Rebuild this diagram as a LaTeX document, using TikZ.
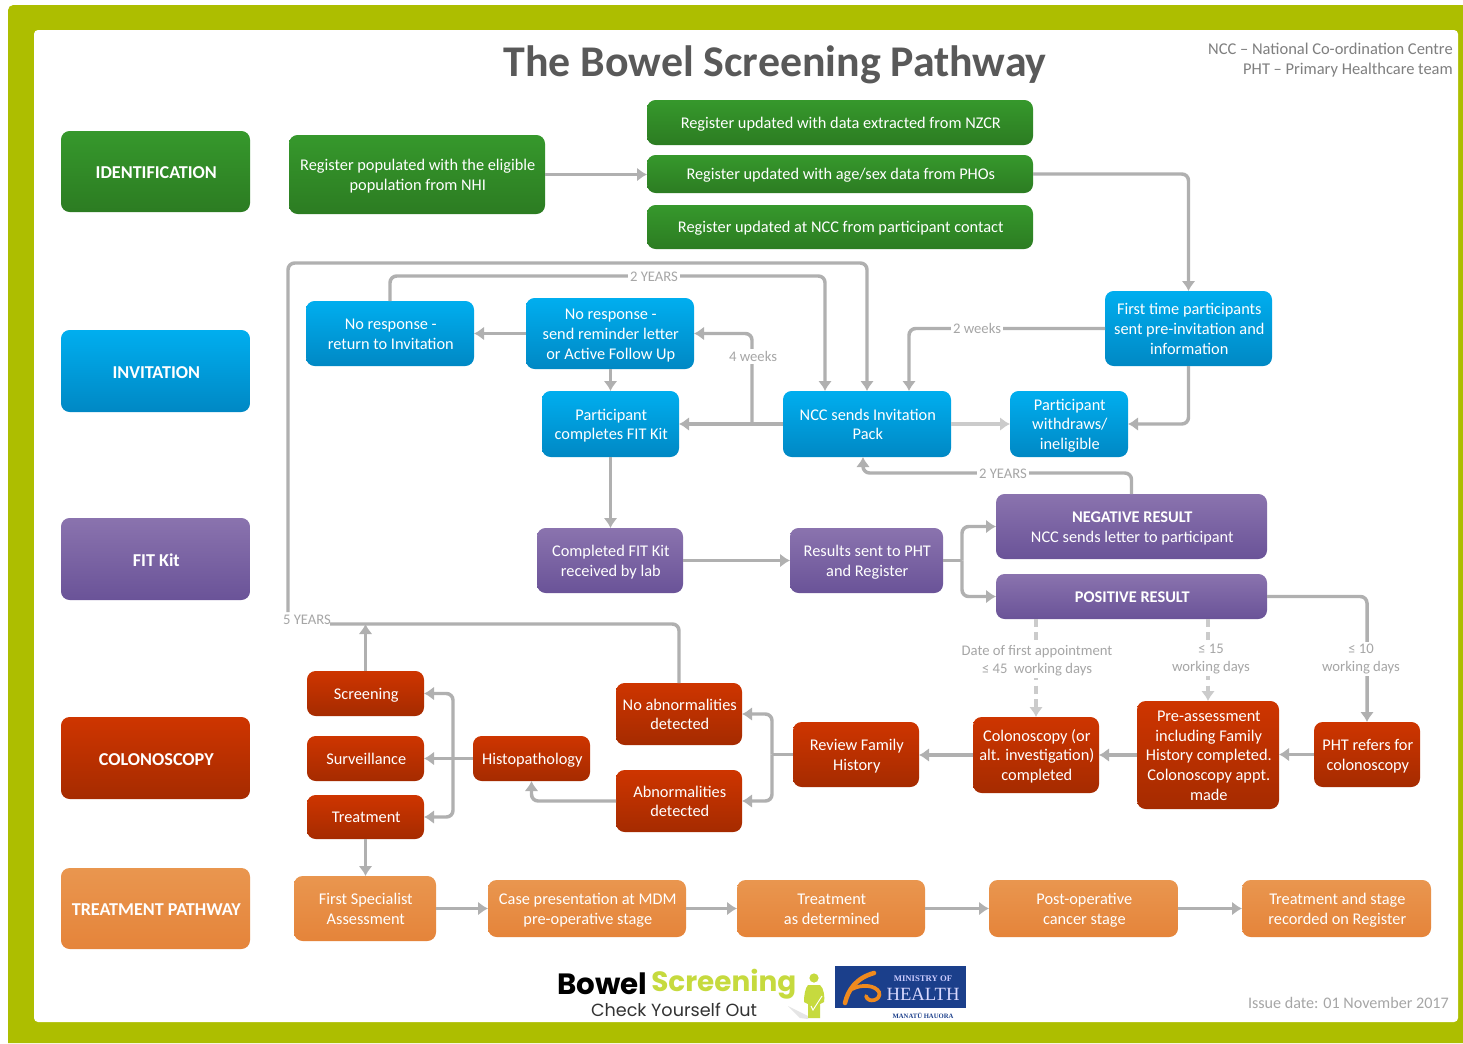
\documentclass[tikz,border=0pt]{standalone}
\usepackage{fontspec}
\setmainfont{Carlito}
\newfontfamily\logofont{Poppins}
\newfontfamily\healthfont{Liberation Serif}
\usetikzlibrary{arrows.meta,calc}
\definecolor{pagegreen}{HTML}{ADBE00}
\definecolor{conn}{HTML}{B0B0B0}
\definecolor{connlight}{HTML}{CBCBCB}
\definecolor{lbl}{HTML}{A6A6A6}
\definecolor{heading}{HTML}{595959}
\definecolor{abbrgray}{HTML}{7F7F7F}
\definecolor{greenT}{HTML}{36982C}\definecolor{greenB}{HTML}{2C7C22}
\definecolor{blueT}{HTML}{00AEEF}\definecolor{blueB}{HTML}{0088C4}
\definecolor{purpleT}{HTML}{8A73AE}\definecolor{purpleB}{HTML}{6A5398}
\definecolor{redT}{HTML}{CE3500}\definecolor{redB}{HTML}{A52B00}
\definecolor{orangeT}{HTML}{E9964F}\definecolor{orangeB}{HTML}{E5843A}
\definecolor{logolime}{HTML}{C6DA3E}
\definecolor{logoblue}{HTML}{1B3F8B}
\definecolor{logoorange}{HTML}{EF8A1E}
\def\pdrop{-1.5pt}
\tikzset{
  base/.style={rounded corners=6.5pt,inner sep=0pt,outer sep=0pt,text=white,font=\fontsize{12.25}{14.8}\selectfont},
  greenbox/.style={base,top color=greenT,bottom color=greenB},
  bluebox/.style={base,top color=blueT,bottom color=blueB},
  purplebox/.style={base,top color=purpleT,bottom color=purpleB},
  redbox/.style={base,top color=redT,bottom color=redB},
  orangebox/.style={base,top color=orangeT,bottom color=orangeB},
  side/.style={font=\fontsize{13.6}{15}\selectfont\bfseries\def\pdrop{-2.4pt}},
  tip/.style={-{Latex[length=7.5pt,width=10.5pt]}},
  plain/.style={draw=conn,line width=2.6pt,rounded corners=5pt},
  link/.style={plain,tip},
  dashlink/.style={draw=connlight,line width=2.6pt,dash pattern=on 6pt off 4pt,tip},
  gap/.style={fill=white,inner sep=1.5pt,text=lbl,align=center,font=\fontsize{11}{13.6}\selectfont},
}
\newcommand\pbox[7]{\node[#1,minimum width={(#5-#3)*0.75pt},minimum height={(#6-#4)*0.75pt}] (#2) at ({(#3+#5)/2},{(#4+#6)/2}) {\hspace*{1.2pt}\raisebox{\pdrop}[\height][\depth]{\begin{tabular}{@{}c@{}}#7\end{tabular}}};}
\begin{document}
\begin{tikzpicture}[x=0.75pt,y=-0.75pt]
\useasboundingbox (0,0) rectangle (1463,1043);
\fill[white] (0,0) rectangle (1463,1043);
\fill[pagegreen] (8,1043) [rounded corners=4pt] -- (8,5) [sharp corners] -- (1463,5) -- (1463,1043) -- cycle;
\fill[white,rounded corners=3pt] (34,30) rectangle (1458,1022);
% title
\node[text=heading,inner sep=0pt,font=\fontsize{32.9}{36}\selectfont\bfseries] (title) at (775,64.5) {The Bowel Screening Pathway};
\node[anchor=east,inner sep=0pt,text=abbrgray,align=right,font=\fontsize{12.35}{15}\selectfont] (abbr) at (1453,60) {NCC -- National Co-ordination Centre\\PHT -- Primary Healthcare team};
% side
\pbox{greenbox,side}{sa}{61}{131}{250}{212}{IDENTIFICATION}
\pbox{bluebox,side}{sb}{61}{330}{250}{412}{INVITATION}
\pbox{purplebox,side}{sc}{61}{518}{250}{600}{FIT Kit}
\pbox{redbox,side}{sd}{61}{717}{250}{799}{COLONOSCOPY}
\pbox{orangebox,side}{se}{61}{868}{250}{949}{TREATMENT PATHWAY}
% green
\pbox{greenbox}{reg}{289}{135}{545}{214}{Register populated with the eligible\\population from NHI}
\pbox{greenbox}{ra}{647}{100}{1033}{145}{Register updated with data extracted from NZCR}
\pbox{greenbox}{rb}{647}{155}{1033}{193}{Register updated with age/sex data from PHOs}
\pbox{greenbox}{rc}{647}{205}{1033}{249}{Register updated at NCC from participant contact}
% blue
\pbox{bluebox}{first}{1105}{291}{1272}{366}{First time participants\\sent pre-invitation and\\information}
\pbox{bluebox}{nores}{306}{301}{474}{366}{No response -\\return to Invitation}
\pbox{bluebox}{rem}{526}{298}{694}{369}{No response -\\send reminder letter\\or Active Follow Up}
\pbox{bluebox}{part}{542}{391}{679}{457}{Participant\\completes FIT Kit}
\pbox{bluebox}{ncc}{783}{391}{951}{457}{NCC sends Invitation\\Pack}
\pbox{bluebox}{with}{1010}{391}{1128}{457}{Participant\\withdraws/\\ineligible}
% purple
\pbox{purplebox}{lab}{537}{528}{683}{593}{Completed FIT Kit\\received by lab}
\pbox{purplebox}{res}{790}{528}{943}{593}{Results sent to PHT\\and Register}
\pbox{purplebox}{neg}{996}{494}{1267}{559}{\textbf{NEGATIVE RESULT}\\NCC sends letter to participant}
\pbox{purplebox}{pos}{996}{574}{1267}{619}{\textbf{POSITIVE RESULT}}
% red
\pbox{redbox}{scr}{307}{671}{424}{716}{Screening}
\pbox{redbox}{sur}{307}{736}{424}{781}{Surveillance}
\pbox{redbox}{trt}{307}{795}{424}{839}{Treatment}
\pbox{redbox}{his}{473}{736}{590}{781}{Histopathology}
\pbox{redbox}{noab}{616}{683}{742}{745}{No abnormalities\\detected}
\pbox{redbox}{abn}{616}{770}{742}{832}{Abnormalities\\detected}
\pbox{redbox}{rev}{793}{722}{919}{787}{Review Family\\History}
\pbox{redbox}{col}{973}{717}{1099}{793}{Colonoscopy (or\\alt. investigation)\\completed}
\pbox{redbox}{pre}{1137}{701}{1279}{809}{Pre-assessment\\including Family\\History completed.\\Colonoscopy appt.\\made}
\pbox{redbox}{pht}{1314}{722}{1420}{787}{PHT refers for\\colonoscopy}
% orange
\pbox{orangebox}{fsa}{294}{876}{436}{941}{First Specialist\\Assessment}
\pbox{orangebox}{mdm}{488}{880}{686}{937}{Case presentation at MDM\\pre-operative stage}
\pbox{orangebox}{tad}{737}{880}{925}{937}{Treatment\\as determined}
\pbox{orangebox}{pcs}{989}{880}{1178}{937}{Post-operative\\cancer stage}
\pbox{orangebox}{trr}{1242}{880}{1431}{937}{Treatment and stage\\recorded on Register}
% junction coordinates
\coordinate (five) at (288,612);
\coordinate (fivetop) at (330,624);
\coordinate (looptop) at (0,263);
\coordinate (yrsA) at (0,276);
\coordinate (jWk) at (752,0);
\coordinate (jRes) at (962,0);
\coordinate (jRev) at (772,0);
\coordinate (jHis) at (453,0);
\coordinate (jNeg) at (0,473);
% connectors
\draw[link] (reg.east) -- (reg.east -| rb.west);
\draw[link] (rb.east) -| (first.north);
\draw[link] (first.west) -| ([xshift=31.5pt]ncc.north);
\draw[link] (first.south) |- (with.east);
\draw[draw=connlight,line width=2.6pt,tip] (ncc.east) -- (with.west);
\draw[link] (ncc.west) -- (part.east);
\draw[link] (ncc.west -| jWk) |- (rem.east);
\draw[link] (rem.south -| part.north) -- (part.north);
\draw[link] (rem.west) -- (rem.west -| nores.east);
\draw[link] (nores.north) |- ([xshift=-31.5pt]yrsA -| ncc.north) -- ([xshift=-31.5pt]ncc.north);
\draw[link] (five) |- (looptop -| ncc.north) -- (ncc.north);
\draw[plain] (noab.north) |- (fivetop);
\draw[link] (part.south) -- (part.south |- lab.north);
\draw[link] (lab.east) -- (lab.east -| res.west);
\draw[plain] (res.east) -- (res.east -| jRes);
\draw[link] (res.east -| jRes) |- (neg.west);
\draw[link] (res.east -| jRes) |- (pos.west);
\draw[link] (neg.north) |- ([xshift=-3pt]jNeg -| ncc.south) -- ([xshift=-3pt]ncc.south);
\draw[link] (pos.east) -| (pht.north);
\draw[dashlink] (pos.south -| col.north) -- (col.north);
\draw[dashlink] (pos.south -| pre.north) -- (pre.north);
\draw[link] (pht.west) -- (pht.west -| pre.east);
\draw[link] (pre.west |- col.east) -- (col.east);
\draw[link] (col.west) -- (col.west -| rev.east);
\draw[plain] (rev.west) -- (rev.west -| jRev);
\draw[link] (rev.west -| jRev) |- (noab.east);
\draw[link] (rev.west -| jRev) |- (abn.east);
\draw[link] (abn.west) -| (his.south);
\draw[link] (his.west) -- (his.west -| sur.east);
\draw[link] (his.west -| jHis) |- (scr.east);
\draw[link] (his.west -| jHis) |- (trt.east);
\draw[link] (scr.north) -- (scr.north |- fivetop);
\draw[link] (trt.south) -- (trt.south |- fsa.north);
\draw[link] (fsa.east |- mdm.west) -- (mdm.west);
\draw[link] (mdm.east) -- (tad.west);
\draw[link] (tad.east) -- (pcs.west);
\draw[link] (pcs.east) -- (trr.west);
% labels
\node[gap] (lA) at (654,276.5) {2 YEARS};
\node[gap] (lB) at (977,328.5) {2 weeks};
\node[gap] (lC) at (753,356.5) {4 weeks};
\node[gap] (lD) at (1003,474) {2 YEARS};
\node[gap,fill=none] (lE) at (307,620) {5 YEARS};
\node[gap] (lF) at (1037,660.5) {Date of first appointment\\≤ 45\ \ working days};
\node[gap] (lG) at (1211,659) {≤ 15\\working days};
\node[gap] (lH) at (1361,659) {≤ 10\\working days};
% logo
\node[anchor=west,inner sep=0pt,font=\logofont\bfseries\fontsize{22}{25}\selectfont] (lgA) at (557,984) {Bowel};
\node[anchor=west,inner sep=0pt,text=logolime,font=\logofont\bfseries\fontsize{20.9}{24}\selectfont] (lgB) at (651,984) {Screening};
\node[inner sep=0pt,text=black!80,font=\logofont\fontsize{13.2}{15}\selectfont] (lgC) at (674,1010) {Check Yourself Out};
\fill[black!10] (788,1006) -- (808,1016) -- (808,1019) -- (800,1018) -- cycle;
\fill[logolime] (814,978) circle (4.6);
\fill[logolime] (808,985) -- (820,985) .. controls (824,988) and (825,998) .. (824,1002) -- (820,1004) -- (820,1018) -- (808,1018) -- (808,1004) -- (804,1002) .. controls (804,996) and (805,988) .. (808,985) -- cycle;
\draw[white,line width=0.7pt] (811,1006) -- (813,1010) -- (822,996);
\fill[logoblue] (835,966) rectangle (966,1008);
\draw[logoorange,line width=3.4pt,line cap=round] (874,973) .. controls (856,978) and (848,990) .. (845,1003);
\draw[logoorange,line width=2.8pt,line cap=round] (852,989) .. controls (862,984) and (875,985) .. (879,992) .. controls (882,1000) and (868,1004) .. (866,996);
\node[inner sep=0pt,text=white!80!blue,font=\healthfont\bfseries\fontsize{6.5}{8}\selectfont] (lgD) at (923,979) {MINISTRY OF};
\node[inner sep=0pt,text=white!85!blue,font=\healthfont\fontsize{14}{16}\selectfont] (lgE) at (923,994) {HEALTH};
\node[inner sep=0pt,text=logoblue,font=\healthfont\bfseries\fontsize{5}{6}\selectfont] (lgF) at (923,1016) {MANATŪ HAUORA};
\node[anchor=east,inner sep=0pt,text=black!35,font=\fontsize{12.1}{14}\selectfont] (issue) at (1449,1003) {Issue date: 01 November 2017};
\end{tikzpicture}
\end{document}
